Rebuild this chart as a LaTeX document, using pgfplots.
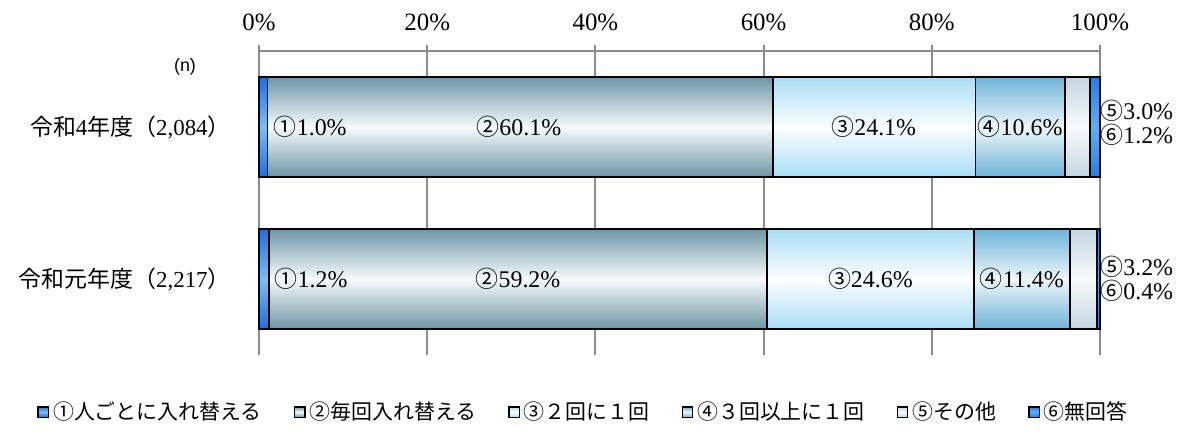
\documentclass[border=0pt]{standalone}
\usepackage{pgfplots}
\pgfplotsset{compat=1.18}
\usepackage{fontspec}
\setmainfont{Liberation Serif}
\newfontfamily\jp{Noto Sans CJK JP}
\newfontfamily\sansf{Liberation Sans}
\definecolor{c1e}{HTML}{1C6FDB}\definecolor{c1m}{HTML}{7DBDF5}
\definecolor{c2e}{HTML}{6C95A5}\definecolor{c2m}{HTML}{F7FAFB}
\definecolor{c3e}{HTML}{A9DDF6}\definecolor{c3m}{HTML}{FCFEFF}
\definecolor{c4e}{HTML}{6DB3D8}\definecolor{c4m}{HTML}{EEF6FA}
\definecolor{c5e}{HTML}{C3D6E0}\definecolor{c5m}{HTML}{F8FAFB}
\definecolor{c6e}{HTML}{1F7FEA}\definecolor{c6m}{HTML}{5EAEF7}
\definecolor{gridc}{HTML}{8C8C8C}
\newcommand{\lbl}{\fontsize{12}{14}\selectfont}
\newcommand{\cn}[1]{{\jp\fontsize{11.5}{12}\selectfont #1}}
\pgfplotsset{
  base/.style={
    at={(0,0)}, anchor=south west,
    scale only axis, width=420.5bp, height=152bp,
    xbar stacked, bar width=50bp,
    xmin=0, xmax=100, ymin=-0.5, ymax=1.5, y dir=reverse,
    clip=false},
  s1/.style={draw=black, line width=0.9bp, top color=c1e, bottom color=c1e, middle color=c1m},
  s2/.style={draw=black, line width=0.9bp, top color=c2e, bottom color=c2e, middle color=c2m},
  s3/.style={draw=black, line width=0.9bp, top color=c3e, bottom color=c3e, middle color=c3m},
  s4/.style={draw=black, line width=0.9bp, top color=c4e, bottom color=c4e, middle color=c4m},
  s5/.style={draw=black, line width=0.9bp, top color=c5e, bottom color=c5e, middle color=c5m},
  s6/.style={draw=black, line width=0.9bp, top color=c6e, bottom color=c6e, middle color=c6m},
}
\begin{document}
\begin{tikzpicture}
\path[use as bounding box] (-129.5bp,-40bp) rectangle (460bp,177.5bp);
% axis A: grid, ticks, legend, row 0 (令和4年度)
\begin{axis}[base,
  axis x line*=top, axis y line=none,
  x axis line style={draw=gridc, line width=1bp},
  xtick={0,20,40,60,80,100},
  xticklabels={0\%,20\%,40\%,60\%,80\%,100\%},
  xticklabel style={font=\fontsize{12.5}{14}\selectfont, yshift=3.5bp},
  tick align=outside, major tick length=3bp,
  tick style={draw=gridc, line width=1bp},
  xmajorgrids, grid style={draw=gridc, line width=1bp},
  legend columns=6,
  legend style={at={(0.387,-0.1875)}, anchor=center, draw=none,
    font=\fontsize{10.5}{12}\selectfont\jp,
    /tikz/every odd column/.append style={column sep=0bp},
    /tikz/every even column/.append style={column sep=14bp}},
  legend image code/.code={\draw[#1, line width=0.7bp] (0bp,-2.6bp) rectangle (5.2bp,2.6bp);},
]
\addplot[s1] coordinates {(1.0,0)};  \addlegendentry{①人ごとに入れ替える}
\addplot[s2] coordinates {(60.1,0)}; \addlegendentry{②毎回入れ替える}
\addplot[s3] coordinates {(24.1,0)}; \addlegendentry{③２回に１回}
\addplot[s4] coordinates {(10.6,0)}; \addlegendentry{④３回以上に１回}
\addplot[s5] coordinates {(3.0,0)};  \addlegendentry{⑤その他}
\addplot[s6] coordinates {(1.2,0)};  \addlegendentry{⑥無回答}
\end{axis}
% axis B: row 1 (令和元年度)
\begin{axis}[base, hide axis]
\addplot[s1] coordinates {(1.2,1)};
\addplot[s2] coordinates {(59.2,1)};
\addplot[s3] coordinates {(24.6,1)};
\addplot[s4] coordinates {(11.4,1)};
\addplot[s5] coordinates {(3.2,1)};
\addplot[s6] coordinates {(0.4,1)};
\coordinate (a1) at (axis cs:6.1,0);
\coordinate (a2) at (axis cs:30.9,0);
\coordinate (a3) at (axis cs:73.1,0);
\coordinate (a4) at (axis cs:90.5,0);
\coordinate (a5) at (axis cs:100,0);
\coordinate (b1) at (axis cs:6.2,1);
\coordinate (b2) at (axis cs:30.8,1);
\coordinate (b3) at (axis cs:72.7,1);
\coordinate (b4) at (axis cs:90.7,1);
\coordinate (b5) at (axis cs:100,1);
\coordinate (n0) at (axis cs:0,-0.395);
\end{axis}
% data labels
\node[font=\lbl] at (a1) {\cn{①}1.0\%};
\node[font=\lbl] at (a2) {\cn{②}60.1\%};
\node[font=\lbl] at (a3) {\cn{③}24.1\%};
\node[font=\lbl] at (a4) {\cn{④}10.6\%};
\node[font=\lbl, anchor=west, inner sep=0pt, yshift=8bp] at (a5) {\cn{⑤}3.0\%};
\node[font=\lbl, anchor=west, inner sep=0pt, yshift=-4bp] at (a5) {\cn{⑥}1.2\%};
\node[font=\lbl] at (b1) {\cn{①}1.2\%};
\node[font=\lbl] at (b2) {\cn{②}59.2\%};
\node[font=\lbl] at (b3) {\cn{③}24.6\%};
\node[font=\lbl] at (b4) {\cn{④}11.4\%};
\node[font=\lbl, anchor=west, inner sep=0pt, yshift=6bp] at (b5) {\cn{⑤}3.2\%};
\node[font=\lbl, anchor=west, inner sep=0pt, yshift=-6bp] at (b5) {\cn{⑥}0.4\%};
% category labels
\node[font=\fontsize{11.5}{14}\selectfont, anchor=east, inner sep=0pt] at ([xshift=-14bp]0,0|-a1) {{\jp 令和}4{\jp 年度（}2,084{\jp ）}};
\node[font=\fontsize{11.5}{14}\selectfont, anchor=east, inner sep=0pt] at ([xshift=-14bp]0,0|-b1) {{\jp 令和元年度（}2,217{\jp ）}};
\node[font=\fontsize{9}{10}\selectfont\sansf, inner sep=0pt, xshift=-37bp] at (n0) {(n)};
\end{tikzpicture}
\end{document}
